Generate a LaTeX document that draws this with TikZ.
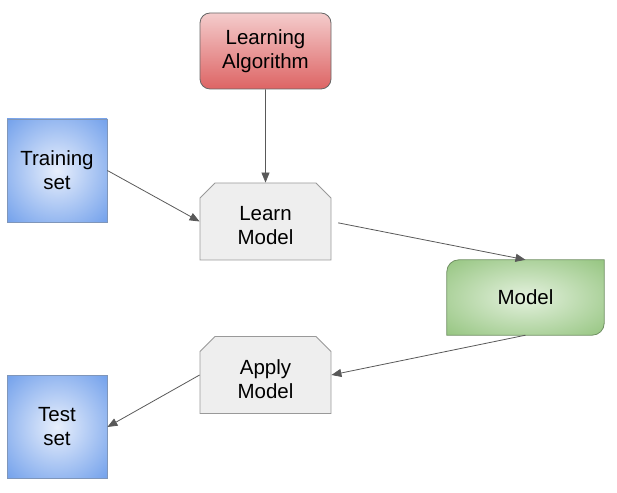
\documentclass[tikz,border=0pt]{standalone}
\usepackage{fontspec}
\setmainfont{Liberation Sans}
\usepackage{tikz}
\usetikzlibrary{arrows.meta,shapes.misc,backgrounds}
\definecolor{algtop}{HTML}{F4CCCC}
\definecolor{algbot}{HTML}{DD6464}
\definecolor{algline}{HTML}{666666}
\definecolor{setin}{HTML}{E8EFFC}
\definecolor{setout}{HTML}{6A9BEA}
\definecolor{setline}{HTML}{7F96BA}
\definecolor{modin}{HTML}{E4F1DE}
\definecolor{modout}{HTML}{90C27A}
\definecolor{modline}{HTML}{6F8F62}
\definecolor{opfill}{HTML}{EEEEEE}
\definecolor{opline}{HTML}{999999}
\definecolor{conn}{HTML}{595959}
\pgfdeclareradialshading{setshade}{\pgfpointorigin}{color(0bp)=(setin); color(38bp)=(setout); color(50bp)=(setout)}
\pgfdeclareradialshading{modshade}{\pgfpointorigin}{color(0bp)=(modin); color(38bp)=(modout); color(50bp)=(modout)}
\newcommand{\boxfont}{\fontsize{20.5}{24}\selectfont}
\tikzset{
  algbox/.style={rectangle, rounded corners=10pt, draw=algline, line width=0.8pt,
                 top color=algtop, bottom color=algbot, align=center, font=\boxfont,
                 minimum width=131pt, minimum height=76pt},
  setbox/.style={rectangle, draw=setline, line width=0.8pt, shade, shading=setshade,
                 align=center, font=\boxfont, minimum width=100pt, minimum height=103pt},
  opbox/.style={chamfered rectangle, chamfered rectangle corners={north west,north east},
                chamfered rectangle xsep=7.5pt, chamfered rectangle ysep=7.5pt,
                draw=opline, line width=0.8pt, fill=opfill, align=center, font=\boxfont,
                minimum width=131pt, minimum height=77pt, text height=46pt, text depth=0pt},
  modbox/.style={rectangle, align=center, font=\boxfont,
                 minimum width=157pt, minimum height=75pt},
  conn/.style={-{Triangle[length=10pt,width=8pt]}, line width=0.8pt, draw=conn},
}

\begin{document}
\begin{tikzpicture}[x=1pt,y=1pt]
  \useasboundingbox (0,0) rectangle (617,492);
  \node[algbox] (alg)   at (265.5,441)   {Learning\\Algorithm};
  \node[setbox] (train) at (57,321.5)    {Training\\set};
  \node[opbox]  (learn) at (265.5,270.5) {Learn\\Model};
  \node[modbox] (model) at (525.5,194.5) {Model};
  \node[opbox]  (apply) at (265.5,117)   {Apply\\Model};
  \node[setbox] (test)  at (57,65)       {Test\\set};
  % model outline, two rounded corners
  \begin{pgfonlayer}{background}
    \draw[draw=modline, line width=0.8pt, shade, shading=modshade]
      ([yshift=-12pt]model.north west) arc[start angle=180, end angle=90, radius=12pt]
      -- (model.north east) -- ([yshift=12pt]model.south east)
      arc[start angle=0, end angle=-90, radius=12pt] -- (model.south west) -- cycle;
  \end{pgfonlayer}
  \draw[conn] (alg) -- (learn);
  \draw[conn] (train.east) -- (learn.west);
  \draw[conn, shorten <=7pt] (learn.east) -- (model.north);
  \draw[conn] (model.south) -- (apply.east);
  \draw[conn] (apply.west) -- (test.east);
\end{tikzpicture}
\end{document}
